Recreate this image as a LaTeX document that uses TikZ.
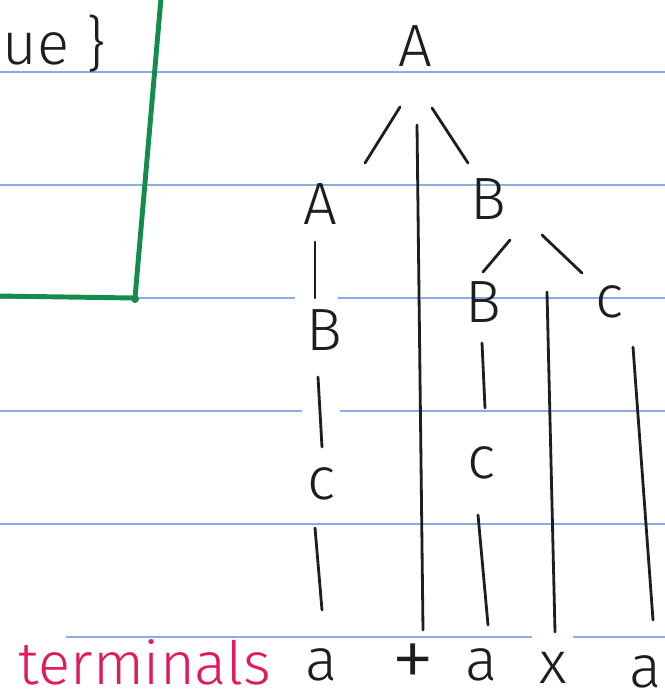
\documentclass[tikz,border=0pt]{standalone}
\usepackage{fontspec}
\setmainfont{Fira Sans Light}
\usepackage{tikz}
\usetikzlibrary{positioning}
\definecolor{paperblue}{RGB}{140,170,232}
\definecolor{markgreen}{RGB}{20,140,75}
\definecolor{inkpink}{RGB}{225,25,95}
\definecolor{inkgray}{RGB}{30,30,30}
\tikzset{
	paperline/.style={paperblue, line width=1.3pt},
	greenline/.style={markgreen, line width=2.8pt, line cap=round, line join=round},
	sym/.style={inner sep=0pt, text=inkgray, font=\fontsize{34}{40}\selectfont},
	tword/.style={inner sep=0pt, text=inkpink, font=\fontsize{34}{40}\selectfont},
	edge/.style={inkgray, line width=1.6pt, line cap=round}
}
\begin{document}
\begin{tikzpicture}[x=0.02cm, y=-0.02cm]
			
			\fill[white] (0,0) rectangle (665,699);
			\useasboundingbox (0,0) rectangle (665,699);
			
			%% ruled paper
			\foreach \y in {72,185,524}
			\draw[paperline] (0,\y) -- (665,\y);
			\draw[paperline] (0,298) -- (295,298) (338,298) -- (665,298);
			\draw[paperline] (0,411) -- (302,411) (340,411) -- (665,411);
			\draw[paperline] (66,637) -- (532,637) (573,637) -- (665,637);
			
			%% green margin
			\draw[greenline] (161,-2) -- (135,298) -- (-2,296);
			\fill[markgreen] (135,299) circle (4);
			
			%% leftover note
			\node[sym, anchor=east] (note) at (106,44) {ue\ \}};
			
			%% parse tree
			\node[sym] (root) at (415,46) {A};
			\node[sym] (lA) at (320,204) {A};
			\node[sym] (rB) at (488,199) {B};
			\node[sym] (lB) at (324,330) {B};
			\node[sym] (lc) at (322,484) {c};
			\node[sym] (rc) at (482,463) {c};
			\node[sym] (rBB) at (483,302) {B};
			\node[sym] (rC) at (609,302) {c};
			
			%% terminals
			\node[tword] (twords) at (145,662) {terminals};
			\node[sym] (la) at (322,665) {a};
			\node[sym, font=\fontsize{50}{56}\selectfont] (plus) at (413,666) {+};
			\node[sym] (ra) at (482,665) {a};
			\node[sym] (times) at (553,668) {x};
			\node[sym] (ca) at (645,672) {a};
			
			%% branches
			\draw[edge] ([shift={(-15,61)}]root.center) -- ([shift={(45,-41)}]lA.center);
			\draw[edge] ([shift={(17,62)}]root.center) -- ([shift={(-20,-36)}]rB.center);
			\draw[edge] ([shift={(2,79)}]root.center) -- ([shift={(10,-36)}]plus.center);
			\draw[edge] ([shift={(-5,38)}]lA.center) -- ([shift={(-9,-32)}]lB.center);
			\draw[edge] ([shift={(-6,47)}]lB.center) -- ([shift={(0,-37)}]lc.center);
			\draw[edge] ([shift={(-7,44)}]lc.center) -- ([shift={(0,-55)}]la.center);
			\draw[edge] ([shift={(22,41)}]rB.center) -- ([shift={(0,-30)}]rBB.center);
			\draw[edge] ([shift={(54,36)}]rB.center) -- ([shift={(-27,-29)}]rC.center);
			\draw[edge] ([shift={(59,93)}]rB.center) -- ([shift={(2,-36)}]times.center);
			\draw[edge] ([shift={(-1,41)}]rBB.center) -- ([shift={(3,-55)}]rc.center);
			\draw[edge] ([shift={(-4,52)}]rc.center) -- ([shift={(6,-40)}]ra.center);
			\draw[edge] ([shift={(24,45)}]rC.center) -- ([shift={(8,-52)}]ca.center);
			
		\end{tikzpicture}
\end{document}
